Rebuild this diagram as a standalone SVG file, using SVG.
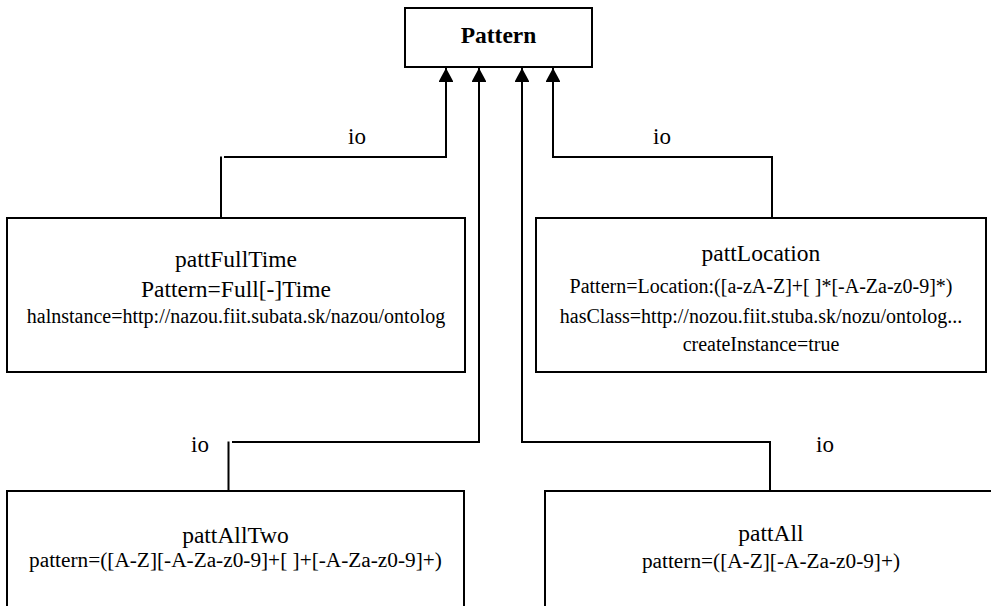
<svg xmlns="http://www.w3.org/2000/svg" width="991" height="606" viewBox="0 0 991 606">
  <style>
    .box { fill: #ffffff; stroke: #000000; stroke-width: 2; }
    .wire { fill: none; stroke: #000000; stroke-width: 2; }
    .t { font-family: "Liberation Serif", "Times New Roman", serif; fill: #000000; text-anchor: middle; }
    .name { font-size: 23.5px; }
    .big { font-size: 23.5px; }
    .attr { font-size: 20px; }
    .attr2 { font-size: 21.3px; }
    .lbl { font-size: 23px; }
    .title { font-size: 23.5px; font-weight: bold; }
  </style>
  <defs>
    <marker id="tri" markerUnits="userSpaceOnUse" markerWidth="16" markerHeight="14" refX="14" refY="7.5" orient="auto">
      <path d="M0,0 L14,7.5 L0,15 Z" fill="#000000"/>
    </marker>
  </defs>
  <rect width="991" height="606" fill="#ffffff"/>

  <g id="connectors">
    <path class="wire" d="M221,218 V156.5 M224,157 H446 V68" marker-end="url(#tri)"/>
    <path class="wire" d="M772,218 V157 H553 V68" marker-end="url(#tri)"/>
    <path class="wire" d="M228.5,491 V441.5 M232,442 H479 V68" marker-end="url(#tri)"/>
    <path class="wire" d="M770,491 V442 H522 V68" marker-end="url(#tri)"/>
    <text class="t lbl" x="357" y="144">io</text>
    <text class="t lbl" x="662" y="144">io</text>
    <text class="t lbl" x="200" y="452">io</text>
    <text class="t lbl" x="825" y="452">io</text>
  </g>

  <g id="pattern">
    <rect class="box" x="405" y="8" width="187" height="59"/>
    <text class="t title" x="498.5" y="43">Pattern</text>
  </g>

  <g id="pattFullTime">
    <rect class="box" x="7" y="218" width="458" height="154"/>
    <text class="t name" x="236" y="267">pattFullTime</text>
    <text class="t big" x="236" y="297">Pattern=Full[-]Time</text>
    <text class="t attr" x="236" y="323">halnstance=http://nazou.fiit.subata.sk/nazou/ontolog</text>
  </g>

  <g id="pattLocation">
    <rect class="box" x="536" y="218" width="450" height="154"/>
    <text class="t name" x="761" y="261">pattLocation</text>
    <text class="t attr" x="761" y="292.5">Pattern=Location:([a-zA-Z]+[ ]*[-A-Za-z0-9]*)</text>
    <text class="t attr" x="761" y="322.5">hasClass=http://nozou.fiit.stuba.sk/nozu/ontolog...</text>
    <text class="t attr" x="761" y="351">createInstance=true</text>
  </g>

  <g id="pattAllTwo">
    <rect class="box" x="7" y="491" width="457" height="130"/>
    <text class="t name" x="235.5" y="543">pattAllTwo</text>
    <text class="t attr2" x="235.5" y="567">pattern=([A-Z][-A-Za-z0-9]+[ ]+[-A-Za-z0-9]+)</text>
  </g>

  <g id="pattAll">
    <rect class="box" x="545" y="491" width="460" height="130"/>
    <text class="t name" x="771" y="541">pattAll</text>
    <text class="t attr2" x="771" y="568">pattern=([A-Z][-A-Za-z0-9]+)</text>
  </g>
</svg>
